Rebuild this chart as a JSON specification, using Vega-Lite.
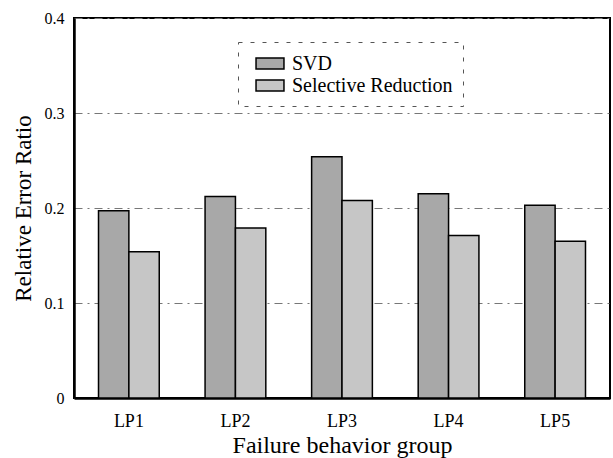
{
  "$schema": "https://vega.github.io/schema/vega-lite/v6.json",
  "width": 536,
  "height": 380,
  "autosize": {"type": "none"},
  "padding": {"left": 74, "top": 18, "right": 3, "bottom": 60},
  "background": "white",
  "config": {
    "font": "Liberation Serif, Times New Roman, serif",
    "view": {"stroke": "black", "strokeWidth": 2},
    "axis": {"labelFont": "Liberation Serif, Times New Roman, serif", "titleFont": "Liberation Serif, Times New Roman, serif", "titleFontWeight": "normal", "labelColor": "black", "titleColor": "black"},
    "legend": {"labelFont": "Liberation Serif, Times New Roman, serif"}
  },
  "data": {
    "values": [
      {"group": "LP1", "method": "SVD", "value": 0.197},
      {"group": "LP1", "method": "Selective Reduction", "value": 0.154},
      {"group": "LP2", "method": "SVD", "value": 0.212},
      {"group": "LP2", "method": "Selective Reduction", "value": 0.179},
      {"group": "LP3", "method": "SVD", "value": 0.254},
      {"group": "LP3", "method": "Selective Reduction", "value": 0.208},
      {"group": "LP4", "method": "SVD", "value": 0.215},
      {"group": "LP4", "method": "Selective Reduction", "value": 0.171},
      {"group": "LP5", "method": "SVD", "value": 0.203},
      {"group": "LP5", "method": "Selective Reduction", "value": 0.165}
    ]
  },
  "mark": {"type": "bar", "stroke": "black", "strokeWidth": 1.5},
  "encoding": {
    "x": {
      "field": "group", "type": "nominal",
      "scale": {"paddingInner": 0.43, "paddingOuter": 0.23},
      "axis": {"title": "Failure behavior group", "labelAngle": 0, "labelFontSize": 18, "titleFontSize": 24, "ticks": false, "labelPadding": 14, "titlePadding": 3, "domainColor": "black", "domainWidth": 2.5}
    },
    "xOffset": {"field": "method", "type": "nominal", "sort": ["SVD", "Selective Reduction"], "scale": {"paddingInner": 0, "paddingOuter": 0}},
    "y": {
      "field": "value", "type": "quantitative",
      "scale": {"domain": [0, 0.4], "nice": false},
      "axis": {"title": "Relative Error Ratio", "values": [0, 0.1, 0.2, 0.3, 0.4], "labelExpr": "datum.value == 0 ? '0' : format(datum.value, '.1f')", "labelFontSize": 16, "titleFontSize": 23, "ticks": false, "labelPadding": 10, "titlePadding": 9, "domainColor": "black", "domainWidth": 2.5, "grid": true, "gridColor": "#777", "gridDash": [8, 5, 2, 5], "gridWidth": 1}
    },
    "fill": {
      "field": "method", "type": "nominal",
      "sort": ["SVD", "Selective Reduction"],
      "scale": {"domain": ["SVD", "Selective Reduction"], "range": ["#a8a8a8", "#c6c6c6"]},
      "legend": {
        "title": null, "orient": "none", "legendX": 164, "legendY": 24,
        "direction": "vertical",
        "labelFontSize": 20, "labelColor": "black", "labelLimit": 400,
        "symbolType": "M-0.33,-0.52H2.33V0.52H-0.33Z", "symbolSize": 441,
        "symbolStrokeColor": "black", "symbolStrokeWidth": 1.5,
        "strokeColor": "#555", "padding": 10,
        "rowPadding": 0, "labelOffset": 21, "offset": 0,
        "encode": {"legend": {"update": {"strokeDash": {"value": [4, 8]}}}}
      }
    }
  }
}
